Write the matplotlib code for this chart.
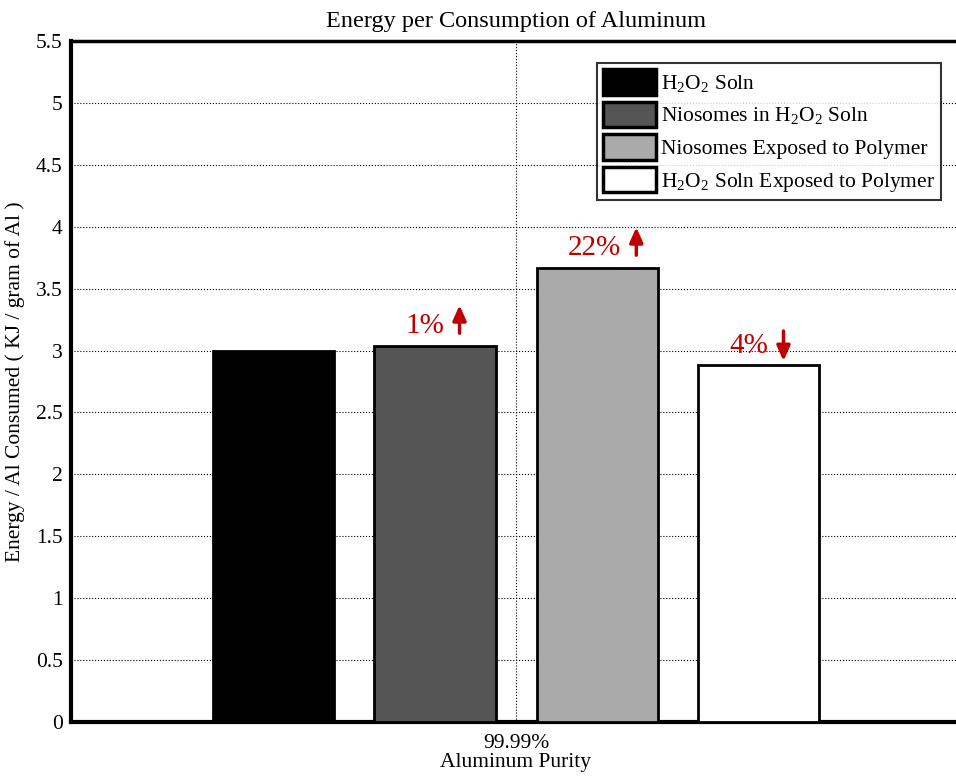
import numpy as np
import matplotlib.pyplot as plt

plt.rcParams['font.family'] = ['Liberation Serif', 'DejaVu Serif']
plt.rcParams['mathtext.fontset'] = 'custom'
plt.rcParams['mathtext.rm'] = 'Liberation Serif'

groups = ['99.99%']
series = ['H$_2$O$_2$ Soln', 'Niosomes in H$_2$O$_2$ Soln',
          'Niosomes Exposed to Polymer', 'H$_2$O$_2$ Soln Exposed to Polymer']
values = [3.00, 3.04, 3.67, 2.88]
colors = ['#000000', '#555555', '#aaaaaa', '#ffffff']
changes = ['', '1%', '22%', '4%']
directions = [0, 1, 1, -1]

fig = plt.figure(figsize=(9.56, 7.76), dpi=100)
ax = fig.add_axes([71/956, 1 - 722/776, 890/956, 681/776])

offsets = [-0.273, -0.091, 0.0915, 0.273]
width = 0.136
red = '#c00000'
labels = []
for i, (v, c) in enumerate(zip(values, colors)):
    x = 1 + offsets[i]
    ax.bar(x, v, width=width, color=c, edgecolor='black', linewidth=2,
           label=series[i], zorder=3)
    if changes[i]:
        t = ax.text(x - 0.033, v + 0.1, changes[i], color=red, fontsize=21,
                    ha='left', va='baseline', zorder=4)
        labels.append((t, directions[i]))

ax.set_xlim(0.5, 1.5)
ax.set_ylim(0, 5.5)
ax.set_yticks(np.arange(0, 5.51, 0.5))
ax.set_yticklabels(['0', '0.5', '1', '1.5', '2', '2.5', '3', '3.5', '4', '4.5', '5', '5.5'])
ax.set_xticks([1])
ax.set_xticklabels(groups)
ax.tick_params(length=0, labelsize=15.5, pad=6)
ax.tick_params(axis='x', pad=9)
ax.grid(True, color='black', linestyle=':', linewidth=0.8, zorder=0)
ax.set_axisbelow(True)

ax.spines['left'].set_linewidth(3)
ax.spines['bottom'].set_linewidth(3)
ax.spines['top'].set_linewidth(2.5)
ax.spines['right'].set_visible(False)

ax.set_title('Energy per Consumption of Aluminum', fontsize=17.5, pad=10)
ax.set_xlabel('Aluminum Purity', fontsize=15.5, labelpad=0)
ax.set_ylabel('Energy / Al Consumed ( KJ / gram of Al )', fontsize=15.5, labelpad=8)

leg = ax.legend(loc='upper left', bbox_to_anchor=(526/890, 1 - 22/681),
                fontsize=15.5, frameon=True, fancybox=False, edgecolor='black',
                handlelength=2.45, handleheight=1.45, handletextpad=0.2,
                labelspacing=0.32, borderpad=0.3, borderaxespad=0)
leg.get_frame().set_linewidth(1.5)
for h in leg.legend_handles:
    h.set_linewidth(2.5)

# arrows next to the percentage labels
fig.canvas.draw()
renderer = fig.canvas.get_renderer()
for t, d in labels:
    bb = t.get_window_extent(renderer)
    base = ax.transData.transform(t.get_position())[1]
    ax_px = bb.x1 + 15
    if d > 0:
        start, end = (ax_px, base), (ax_px, base + 28)
    else:
        start, end = (ax_px, base + 22), (ax_px, base - 8)
    ax.annotate('', xy=end, xycoords='figure pixels', xytext=start,
                textcoords='figure pixels',
                arrowprops=dict(arrowstyle='-|>,head_width=0.4,head_length=0.9',
                                color=red, lw=2.5, shrinkA=0, shrinkB=0), zorder=4)

fig.savefig('out.png', dpi=100)
